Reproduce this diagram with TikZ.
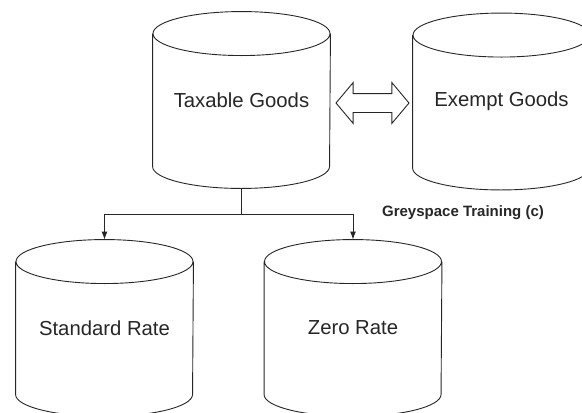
\documentclass[tikz,border=0pt]{standalone}
\usepackage{fontspec}
\setmainfont{Liberation Sans}
\usetikzlibrary{shapes,arrows.meta}

\begin{document}
\begin{tikzpicture}
	[
		x=1pt, y=-1pt, line width=0.9pt, draw=black!85,
		every node/.style = {font=\fontsize{20.3}{24}\selectfont, text=black!85},
		store/.style = {shape=rectangle, minimum width=177pt, minimum height=176pt, inner sep=0pt},
		flow/.style = {-{Latex[length=8pt,width=6pt]}},
	]
	\useasboundingbox (0,0) rectangle (582,413);
	\clip (0,0) rectangle (582,413);

	% goods
	\node[store] (taxable) at (241.5,100) {Taxable Goods};
	\node[store] (exempt) at (501.5,101.5) {Exempt Goods};
	\node[double arrow, draw, fill=white, minimum height=73pt, inner xsep=0pt, inner ysep=9pt,
		double arrow head extend=11pt, double arrow tip angle=100] (swap) at (372.5,103) {};

	% rates
	\node[store] (standard) at (104.5,328) {Standard Rate};
	\node[store] (zero) at (353,328) {Zero Rate};

	% cylinder outlines round the store nodes
	\foreach \n in {taxable,exempt,standard,zero}
		\draw ([yshift=-22pt]\n.north) ellipse [x radius=88.5pt, y radius=22pt]
			([yshift=-22pt]\n.north west) -- ([yshift=22pt]\n.south west)
			arc [start angle=180, end angle=360, x radius=88.5pt, y radius=22pt]
			-- ([yshift=-22pt]\n.north east);

	\node[font=\bfseries\fontsize{15}{18}\selectfont] (credit) at (463,213) {Greyspace Training (c)};

	\coordinate (split) at ([yshift=-26pt]taxable.south);
	\draw (taxable.south) -- (split);
	\draw[flow] (split) -| (standard.north);
	\draw[flow] (split) -| (zero.north);

\end{tikzpicture}
\end{document}
